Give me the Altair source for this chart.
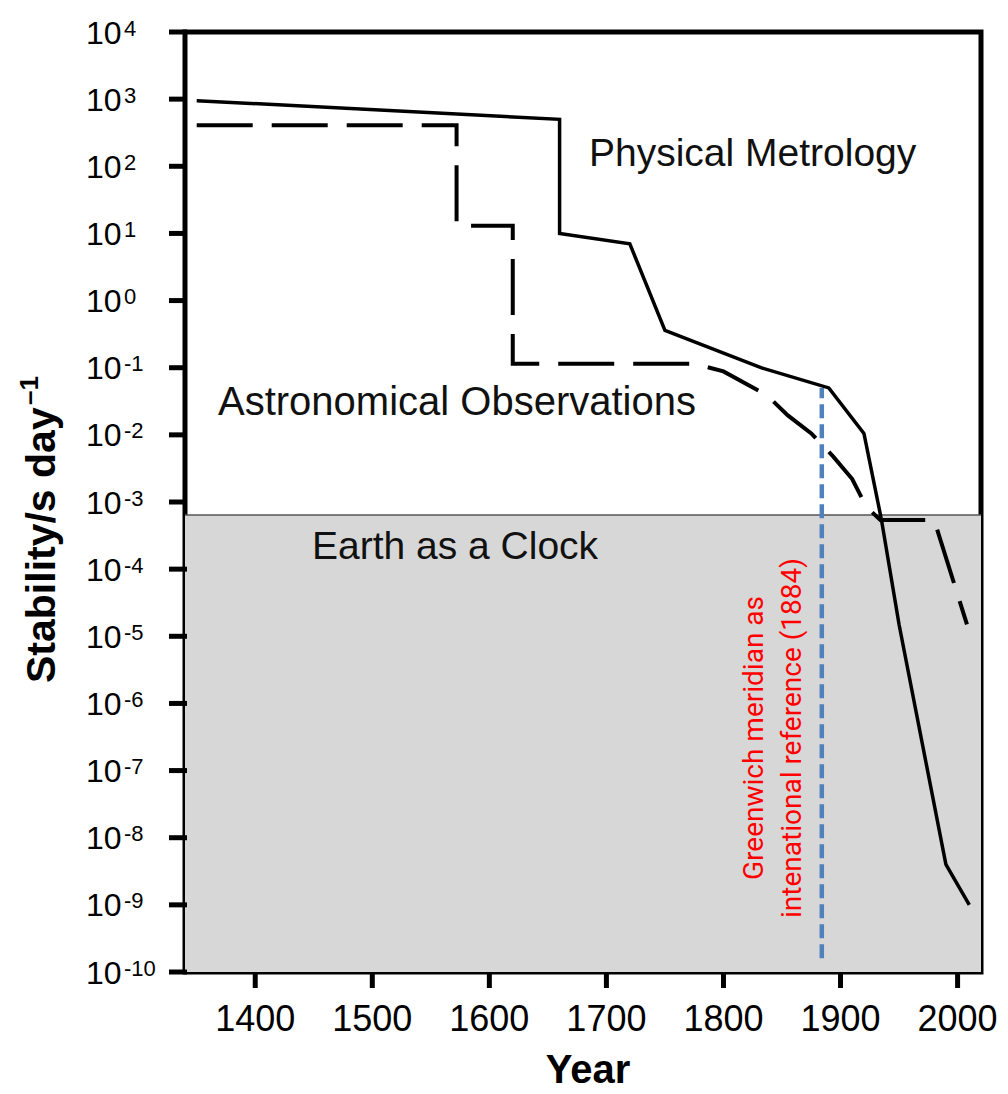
import altair as alt
import pandas as pd

# Physical Metrology (solid curve)
solid_year = [1350, 1660, 1660, 1720, 1750, 1832, 1890, 1920, 1935, 1950, 1990, 2010]
solid_stability = [950, 500, 10, 7, 0.36, 0.1, 0.05, 0.0105, 5.4e-4, 1.5e-5, 4e-9, 1e-9]

# Astronomical Observations (dashed curve)
dash_year = [1350, 1572, 1572, 1620, 1620, 1775, 1800, 1837, 1855, 1875, 1894,
             1910, 1922, 1934, 1980, 2008]
dash_stability = [410, 410, 13, 13, 0.115, 0.115, 0.088, 0.039, 0.0195, 0.0105,
                  0.0047, 0.0022, 8.5e-4, 5.4e-4, 5.4e-4, 1.5e-5]

# "Earth as a Clock" band
band_year = [1340, 2020]
band_stability = [1e-10, 6.4e-4]

# Greenwich meridian marker
meridian_year = 1884
meridian_stability = [1.6e-10, 0.05]

# Axes
x_domain = [1340, 2020]
y_domain = [1e-10, 1e4]
x_ticks = [1400, 1500, 1600, 1700, 1800, 1900, 2000]
y_exponents = list(range(-10, 5))

W, H = 796, 940
FONT = "Liberation Sans"
TICK = 16

xs = alt.Scale(domain=x_domain, nice=False, zero=False)
ys = alt.Scale(type="log", domain=y_domain, nice=False)


def X(field):
    return alt.X(field, scale=xs, axis=None)


def Y(field):
    return alt.Y(field, scale=ys, axis=None)


solid_df = pd.DataFrame({"year": solid_year, "stability": solid_stability,
                         "i": range(len(solid_year))})
dash_df = pd.DataFrame({"year": dash_year, "stability": dash_stability,
                        "i": range(len(dash_year))})
band_df = pd.DataFrame({"year": [band_year[0]], "year_end": [band_year[1]],
                        "stability": [band_stability[0]], "top": [band_stability[1]]})
meridian_df = pd.DataFrame({"year": [meridian_year],
                            "stability": [meridian_stability[0]],
                            "top": [meridian_stability[1]]})
xtick_df = pd.DataFrame({"year": x_ticks, "label": [str(v) for v in x_ticks]})
ytick_df = pd.DataFrame({"stability": [10.0 ** e for e in y_exponents],
                         "base": ["10"] * len(y_exponents),
                         "exp": [str(e) for e in y_exponents]})

band = alt.Chart(band_df).mark_rect(fill="#d7d7d7").encode(
    x=X("year:Q"), x2="year_end:Q", y=Y("stability:Q"), y2="top:Q",
)
band_edge = alt.Chart(band_df).mark_rule(color="#555555", strokeWidth=1.5).encode(
    x=X("year:Q"), x2="year_end:Q", y=Y("top:Q"),
)

dashed = alt.Chart(dash_df).mark_line(
    color="black", strokeWidth=4, strokeDash=[56, 19], strokeCap="butt"
).encode(x=X("year:Q"), y=Y("stability:Q"), order="i:Q")

solid = alt.Chart(solid_df).mark_line(color="black", strokeWidth=3.5).encode(
    x=X("year:Q"), y=Y("stability:Q"), order="i:Q",
)
meridian = alt.Chart(meridian_df).mark_rule(
    color="#4f81bd", strokeWidth=4.5, strokeDash=[14, 6]
).encode(x=X("year:Q"), y=Y("stability:Q"), y2="top:Q")

# outward tick marks
xticks = alt.Chart(xtick_df).mark_rect(color="black", width=5).encode(
    x=X("year:Q"), y=alt.value(H), y2=alt.value(H + TICK),
)
yticks = alt.Chart(ytick_df).mark_rule(color="black", strokeWidth=5).encode(
    y=Y("stability:Q"), x=alt.value(-TICK), x2=alt.value(2),
)

# tick labels
xlab = alt.Chart(xtick_df).mark_text(
    font=FONT, fontSize=36, align="center", baseline="alphabetic", color="black"
).encode(x=X("year:Q"), y=alt.value(H + 59), text="label:N")
ylab_base = alt.Chart(ytick_df).mark_text(
    font=FONT, fontSize=32, align="left", baseline="alphabetic", dy=11.5, color="black"
).encode(x=alt.value(-99), y=Y("stability:Q"), text="base:N")
ylab_exp = alt.Chart(ytick_df).mark_text(
    font=FONT, fontSize=22, align="left", baseline="alphabetic", dy=3.5, color="black"
).encode(x=alt.value(-61), y=Y("stability:Q"), text="exp:N")


def label(text, x, y, size=39, **kw):
    return alt.Chart(pd.DataFrame({"t": [text]})).mark_text(
        font=kw.pop("font", FONT), fontSize=size, align=kw.pop("align", "left"),
        baseline="alphabetic", color=kw.pop("color", "#111111"), **kw
    ).encode(x=alt.value(x), y=alt.value(y), text="t:N")


physical = label("Physical Metrology", 404, 134)
astro = label("Astronomical Observations", 33, 383, size=40)
earth = label("Earth as a Clock", 127, 527)

greenwich = alt.Chart(pd.DataFrame({"t": [["Greenwich meridian as",
                                          "intenational reference (1884)"]]})).mark_text(
    font="Roboto", fontSize=28, align="center", baseline="alphabetic", angle=270,
    lineHeight=38, color="#ff0000"
).encode(x=alt.value(578), y=alt.value(706), text="t:N")

x_title = label("Year", 403, 1051, size=40, fontWeight="bold", align="center", color="black")
y_title = label("Stability/s day", -130, 651, size=41, fontWeight="bold", angle=270,
                color="black")
y_title_sup = label("\u20131", -147, 373, size=26, fontWeight="bold", angle=270,
                    color="black")

chart = alt.layer(
    band, band_edge, dashed, solid, meridian,
    xticks, yticks, xlab, ylab_base, ylab_exp,
    physical, astro, earth, greenwich,
    x_title, y_title, y_title_sup,
).properties(
    width=W, height=H,
    autosize=alt.AutoSizeParams(type="none"),
    padding={"left": 185, "top": 32, "right": 27, "bottom": 122},
    background="white",
).configure_view(stroke="black", strokeWidth=5)

chart.save("out.html", embed_options={"renderer": "svg", "actions": False})
